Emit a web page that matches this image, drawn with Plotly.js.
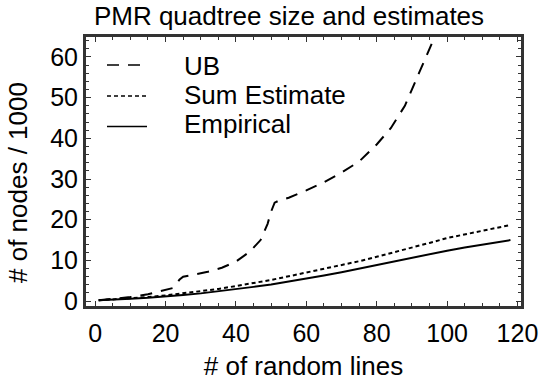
<!DOCTYPE html>
<html>
<head>
<meta charset="utf-8">
<script src="https://cdn.plot.ly/plotly-3.0.1.min.js"></script>
<style>html,body{margin:0;padding:0;background:#fff;}#chart{width:542px;height:381px;}</style>
</head>
<body>
<div id="chart"></div>
<script>
// ---- data ----
const ubX  = [1, 5, 10, 15, 20, 22, 23, 24, 25, 28, 32, 36, 40, 44, 47, 49, 50, 51, 52, 55, 60, 65, 70, 75, 80, 84, 88, 92, 96, 100];
const ubY  = [0.2, 0.5, 1.0, 1.7, 2.8, 3.2, 4.2, 5.3, 6.0, 6.5, 7.2, 8.2, 9.7, 12.2, 15.0, 19.0, 22.0, 24.2, 24.6, 25.4, 27.2, 29.2, 31.6, 34.3, 38.5, 42.5, 48.0, 56.0, 64.0, 74.0];
const sumX = [1, 5, 10, 15, 20, 25, 30, 35, 40, 45, 50, 55, 60, 65, 70, 75, 80, 85, 90, 95, 100, 105, 110, 115, 118];
const sumY = [0.2, 0.4, 0.7, 1.0, 1.4, 1.9, 2.4, 3.0, 3.7, 4.4, 5.2, 6.1, 7.0, 7.9, 8.8, 9.8, 10.9, 12.0, 13.1, 14.3, 15.5, 16.4, 17.3, 18.2, 18.7];
const empX = [1, 5, 10, 15, 20, 25, 30, 35, 40, 45, 50, 55, 60, 65, 70, 75, 80, 85, 90, 95, 100, 105, 110, 115, 118];
const empY = [0.2, 0.3, 0.6, 0.8, 1.1, 1.5, 1.9, 2.4, 2.9, 3.5, 4.1, 4.8, 5.6, 6.3, 7.1, 8.0, 8.9, 9.7, 10.6, 11.5, 12.4, 13.2, 13.9, 14.6, 15.0];
const names = ["UB", "Sum Estimate", "Empirical"];
const xTicks = [0, 20, 40, 60, 80, 100, 120];
const yTicks = [0, 10, 20, 30, 40, 50, 60];

const FONT = "Liberation Sans, Arial, Helvetica, sans-serif";
const dashes = ["12px,9px", "4px,3px", "solid"];
const series = [[ubX, ubY], [sumX, sumY], [empX, empY]];
const traces = series.map((s, i) => ({
  x: s[0], y: s[1], name: names[i], mode: "lines", showlegend: false,
  line: {color: "#000", width: 2, dash: dashes[i]}
}));

// plot area in px: x 86..521, y 37..306
const L = 86, R = 521, T = 37, B = 306;
const px2x = p => (p - L) / (R - L);
const py2y = p => 1 - (p - T) / (B - T);

const axisCommon = {
  showgrid: false, zeroline: false, showline: true, linecolor: "#333", linewidth: 3,
  mirror: "allticks", ticks: "inside", ticklen: 5, tickwidth: 1, tickcolor: "#333",
  tickfont: {family: FONT, size: 25, color: "#000"}
};

// legend built from names
const legY = [65, 96, 126.5], legTextY = [66, 95, 124];
const shapes = names.map((n, i) => ({
  type: "line", xref: "paper", yref: "paper",
  x0: px2x(107), x1: px2x(147), y0: py2y(legY[i]), y1: py2y(legY[i]),
  line: {color: "#000", width: 1.5, dash: dashes[i]}
}));
const annotations = names.map((n, i) => ({
  text: n, xref: "paper", yref: "paper", x: px2x(182), y: py2y(legTextY[i]),
  xanchor: "left", yanchor: "middle", showarrow: false,
  font: {family: FONT, size: 26, color: "#000"}
}));
annotations.push({
  text: "# of nodes / 1000", xref: "paper", yref: "paper", x: px2x(18), y: py2y(183),
  xanchor: "center", yanchor: "middle", textangle: -90, showarrow: false,
  font: {family: FONT, size: 26, color: "#000"}
});

const layout = {
  width: 542, height: 381,
  margin: {l: L, r: 542 - R, t: T, b: 381 - B},
  paper_bgcolor: "#fff", plot_bgcolor: "#fff",
  font: {family: FONT, color: "#000"},
  showlegend: false,
  title: {text: "PMR quadtree size and estimates", font: {family: FONT, size: 26, color: "#000"},
          x: 289/542, xref: "container", xanchor: "center", y: 1 - 16/381, yref: "container", yanchor: "middle"},
  xaxis: Object.assign({}, axisCommon, {
    range: [-2.6, 121.0], tickvals: xTicks, ticklabelstandoff: 3,
    minor: {dtick: 5, ticks: "inside", ticklen: 3, tickcolor: "#333"},
    title: {text: "# of random lines", font: {family: FONT, size: 26, color: "#000"}, standoff: 13}
  }),
  yaxis: Object.assign({}, axisCommon, {
    range: [-1.2, 64.9], tickvals: yTicks,
    minor: {dtick: 2, ticks: "inside", ticklen: 3, tickcolor: "#333"}
  }),
  shapes: shapes,
  annotations: annotations
};

Plotly.newPlot("chart", traces, layout, {displayModeBar: false, staticPlot: true});
</script>
</body>
</html>
